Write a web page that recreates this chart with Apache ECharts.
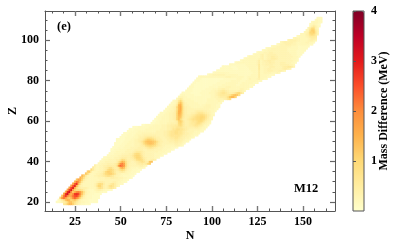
<!DOCTYPE html>
<html><head><meta charset="utf-8">
<style>html,body{margin:0;padding:0;background:#fff}#c{width:415px;height:249px}</style>
<script src="https://cdn.jsdelivr.net/npm/echarts@6/dist/echarts.min.js"></script>
</head><body><div id="c"></div>
<script>
// Proton number of each row, first neutron number of each row,
// and one level code per cell, read from left to right; levelCodes/levelMeV give each code's mass difference.
const zRows = [19,20,21,22,23,24,25,26,27,28,29,30,31,32,33,34,35,36,37,38,39,40,41,42,43,44,45,46,47,48,49,50,51,52,53,54,55,56,57,58,59,60,61,62,63,64,65,66,67,68,69,70,71,72,73,74,75,76,77,78,79,80,81,82,83,84,85,86,87,88,89,90,91,92,93,94,95,96,97,98,99,100,101,102,103,104,105,106,107,108,109,110,111];
const nStart = [19,15,16,17,18,19,20,21,22,23,24,25,26,28,29,31,32,34,35,36,38,39,40,41,43,44,45,45,46,47,47,48,48,50,51,52,54,55,57,62,67,68,69,70,71,72,74,75,76,77,78,79,81,82,83,84,86,87,88,89,90,91,92,93,98,101,103,105,106,110,113,116,118,120,123,125,128,130,133,136,138,142,145,147,149,151,152,153,154,154,155,157,158];
const levelCodes = "3456789abcdefghijklmnopqrstuvwxyz";
const levelMeV = [0.1,0.16,0.23,0.3,0.38,0.46,0.56,0.67,0.8,0.9,1.0,1.1,1.2,1.3,1.4,1.5,1.6,1.7,1.8,1.9,2.0,2.1,2.2,2.3,2.4,2.5,2.6,2.7,2.8,2.9,3.0,3.1,3.2];
const massRows = [
"9aehh ea865 44333","33468 9cggd b9765 54433 333","358af ihdef c9654 44333 33","dmpkg ehnqn ic865 44433 33",
"gpuni kpstp ib754 44333 3","jvzmi nuvtm fa654 44333 3","iwzmf inolg b7554 44554 433","juxke ccba8 65444 56776 54433",
"ktxjc 98777 65555 7aba7 679a9 7","kswib 76555 55569 dda76 7aba8 64","jrvha 65555 5568b cb866 79a86 544","hpmf9 65555 55678 87666 67765 5443",
"fkid8 65555 55566 66666 66665 5443","ifb76 55555 66667 77887 76665 5443","he965 55667 789ab ba976 65544 4433","fc755 56678 acdee ca766 55554 443",
"ef855 56679 ceedb 97789 86554 4433","c9655 6678b ddb98 9bdb8 65544 433","96556 6789b b988a gjga7 65554 5554","75566 77888 88akq olc86 66666 7765",
"55666 77778 9emok c8666 67889 89ce","55566 66667 aeigb 87667 89aba 88fg","45556 66677 9cb97 7789b ccb97 66787","44555 56667 88877 89bdd ca876 66655 4",
"44555 56677 7778a cddb9 76666 65554 4","44455 55666 6779b cca87 66666 55554 44","44455 55566 66789 99876 66666 65555 444","33444 55556 66677 77766 77776 66655 54443",
"33344 45555 66667 77789 aa987 66655 55444 3","33344 45555 56667 89bcd dcb98 76655 55566 654","33334 44555 56667 9cefg gfda8 76666 66677 6654","33334 44555 6678a dfggg feb97 76667 77887 76554",
"33333 44455 66778 aceed ca877 66677 88998 77655 4","33344 44555 67789 aaa98 77666 77899 aa987 76655 4","33344 44556 66777 77776 66677 89aaa aa987 76655 44","33344 44555 66666 66666 66778 9aabb aa987 76655 54",
"33444 45555 55555 56666 7789a abbaa 98766 66555 44","33344 44445 55555 55666 6778a abbaa 98766 66665 44","33344 44445 55555 56667 7899a aa988 77778 87655 4","33444 45555 56667 78899 bca87 7889a a9875 54",
"33444 55556 67778 cda87 7899a bba87 654","33445 55556 6678d eb877 89aab ccb97 65","33445 55566 78dgc 97789 abbcc dcb97 65","34455 55667 8dgfa 87789 abccd dca86 5",
"34455 56678 dhgb8 77789 abbcc ba875 5","44455 6678d ihc87 66778 9aaa9 87654","44556 68cii c8766 66788 88776 6554","44556 7bhjd 87666 66666 66665 5544",
"44567 chjd8 76655 55555 66665 5544","44569 hic76 65555 55455 66655 544","4457d gb765 55555 44445 55555 544","456ad 96555 55444 44445 55555 654",
"57975 55544 44444 44555 55666 678ab","56655 44444 44444 44455 66788 89bfh hd","45544 44433 33444 44556 78999 99adf gfb","44444 33333 44444 55567 89aa9 8778a cda7",
"44443 33334 44445 56678 99876 66667 765","44433 33333 44445 55667 76655 55556 6554","44433 33333 34444 45555 66655 55555 55544","44333 33333 33444 44555 55555 44555 55444",
"44333 33333 33344 44455 55555 44555 55544 4","44433 33333 33334 44444 55555 44455 55555 44","44433 33333 33333 44444 44555 44456 55567 5544","45555 55555 55555 66655 55555 44555 55585 55544",
"45566 66666 55555 55444 44445 55585 55554 44","45555 55554 44444 44444 44555 85566 66555 65","44444 44444 44444 44445 55585 56677 76667 765","44444 44333 44444 45555 59556 67766 66667 8876",
"44444 33344 44445 55555 95566 67776 66678 89986","44444 44445 55555 69566 77776 66677 777665","45555 55555 55685 66778 77666 77766 6554","45555 55556 85677 88776 66666 66665 54",
"45555 55566 75677 88876 66666 65554","45555 55675 67788 77666 66666 5554","45556 75677 77766 66666 65554 44","45556 66776 66666 66655 55444 4",
"45566 66666 66665 55554 4444","45566 66666 66555 55544 444","45566 66666 65555 44444 4","45666 77766 65555 55544",
"56777 77665 55556 6554","67777 66555 56776 5","56665 55567 887","45555 67999 8",
"55578 bcb96","568dd ea6","56bee 96","69cc7 5","57975 4","45654 3","45554 4","4544","444"
];
const nTicks = [25,50,75,100,125,150];
const zTicks = [20,40,60,80,100];
const nMinor = [12.5,18.75,31.25,37.5,43.75,56.25,62.5,68.75,81.25,87.5,93.75,106.25,112.5,118.75,131.25,137.5,143.75,156.25,162.5];
const zMinor = [25,30,35,45,50,55,65,70,75,85,90,95,105,110];
const barTicks = [1,2,3,4];
const colors = ['#ffffcc','#ffeda0','#fed976','#feb24c','#fd8d3c','#fc4e2a','#e31a1c','#bd0026','#800026'];

const nCats = [], zCats = [];
for (let n = 9; n <= 167; n++) nCats.push(String(n));
for (let z = 16; z <= 114; z++) zCats.push(String(z));
const cells = [];
massRows.forEach((row, i) => {
  row.replace(/ /g, '').split('').forEach((ch, j) => {
    cells.push([String(nStart[i] + j), String(zRows[i]), levelMeV[levelCodes.indexOf(ch)]]);
  });
});

const FONT = '"Liberation Serif","Times New Roman",serif';
const AXC = '#555';
const txt = {fontFamily: FONT, fontWeight: 'bold', fontSize: 12, color: '#000'};
const rect = {left: 45, top: 11, width: 290, height: 200, outerBoundsMode: 'none', containLabel: false};
const hidden = {show: false};

function xA(grid, pos, vals, len, major, label) {
  return {type: 'value', gridIndex: grid, position: pos, min: 8.5, max: 167.5, splitLine: hidden,
    axisLine: {show: major, onZero: false, lineStyle: {color: AXC, width: 1}},
    axisTick: {show: true, inside: true, length: len, customValues: vals, lineStyle: {color: major ? '#777' : AXC, width: major ? 1.4 : 1}},
    axisLabel: label ? Object.assign({show: true, customValues: vals, margin: 5}, txt) : hidden,
    name: label ? 'N' : '', nameLocation: 'middle', nameGap: 19, nameMoveOverlap: false, nameTextStyle: txt};
}
function yA(grid, pos, vals, len, major, label) {
  return {type: 'value', gridIndex: grid, position: pos, min: 15.5, max: 114.5, splitLine: hidden,
    axisLine: {show: major, onZero: false, lineStyle: {color: AXC, width: 1}},
    axisTick: {show: true, inside: true, length: len, customValues: vals, lineStyle: {color: major ? '#666' : AXC, width: major ? 1.2 : 1}},
    axisLabel: label ? Object.assign({show: true, customValues: vals, margin: 6}, txt) : hidden,
    name: label ? 'Z' : '', nameLocation: 'middle', nameRotate: 90, nameGap: 26, nameMoveOverlap: false, nameTextStyle: txt};
}

const option = {
  animation: false,
  backgroundColor: '#fff',
  grid: [
    Object.assign({}, rect),
    Object.assign({}, rect),
    Object.assign({}, rect),
    {left: 353, top: 11, width: 11, height: 200, show: true, z: 10, borderColor: AXC, borderWidth: 1, backgroundColor: 'transparent', outerBoundsMode: 'none', containLabel: false}
  ],
  xAxis: [
    {type: 'category', gridIndex: 0, data: nCats, show: false},
    xA(1, 'bottom', nTicks, 5, true, true),
    xA(1, 'top', nTicks, 5, true, false),
    xA(2, 'bottom', nMinor, 2.5, false, false),
    xA(2, 'top', nMinor, 2.5, false, false),
    {type: 'value', gridIndex: 3, show: false, min: 0, max: 1}
  ],
  yAxis: [
    {type: 'category', gridIndex: 0, data: zCats, show: false},
    yA(1, 'left', zTicks, 5, true, true),
    yA(1, 'right', zTicks, 5, true, false),
    yA(2, 'left', zMinor, 2.5, false, false),
    yA(2, 'right', zMinor, 2.5, false, false),
    {type: 'value', gridIndex: 3, position: 'right', min: 0, max: 4, z: 11, splitLine: hidden,
      axisLine: {show: false},
      axisTick: {show: true, length: 3, customValues: barTicks, lineStyle: {color: AXC}},
      axisLabel: Object.assign({show: true, customValues: barTicks, margin: 7}, txt),
      name: 'Mass Difference (MeV)', nameLocation: 'middle', nameRotate: 90, nameGap: 14, nameMoveOverlap: false, nameTextStyle: txt}
  ],
  visualMap: {
    type: 'continuous', seriesIndex: 0, dimension: 2, min: 0, max: 4, calculable: false, hoverLink: false,
    left: 353, top: 11, itemWidth: 11, itemHeight: 200, padding: 0, text: null, showLabel: false,
    inRange: {color: colors}
  },
  series: [{type: 'heatmap', xAxisIndex: 0, yAxisIndex: 0, data: cells, progressive: 0, itemStyle: {borderWidth: 0}}],
  graphic: [
    {type: 'text', left: 57, top: 20, style: {text: '(e)', font: 'bold 12.5px ' + FONT, fill: '#000'}},
    {type: 'text', left: 294, top: 182, style: {text: 'M12', font: 'bold 12.5px ' + FONT, fill: '#000'}}
  ]
};
echarts.init(document.getElementById('c'), null, {renderer: 'canvas'}).setOption(option);
</script></body></html>
